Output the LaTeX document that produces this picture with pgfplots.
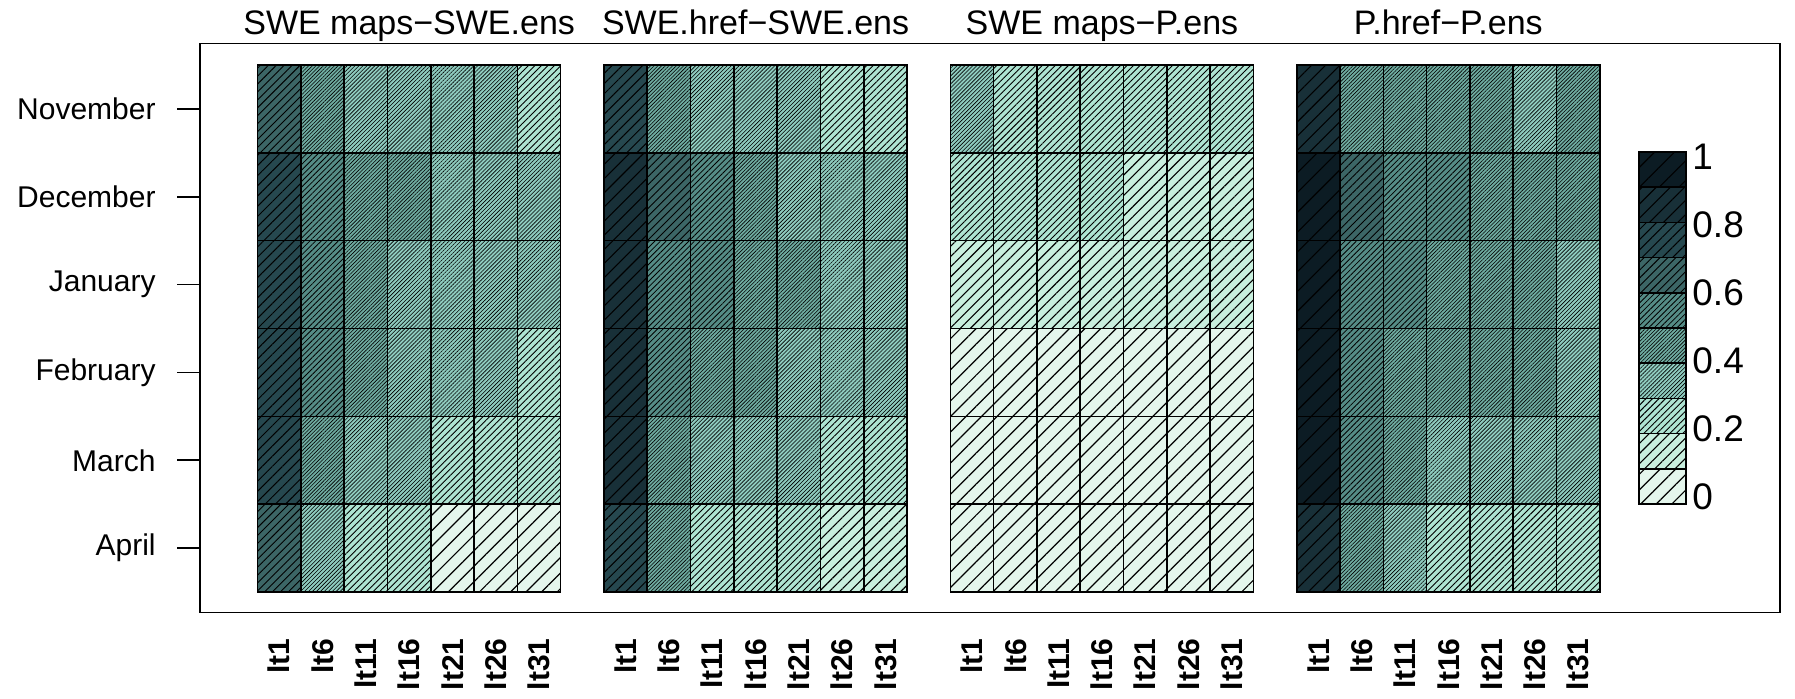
\documentclass[border=0pt]{standalone}
\usepackage{pgfplots}
\pgfplotsset{compat=1.18}
\usepackage{pgfplotstable}
\usepackage{fontspec}
\setmainfont{Liberation Sans}
\usetikzlibrary{patterns.meta}

\definecolor{lv0}{HTML}{E4F6EC}
\definecolor{lv1}{HTML}{C8EFDE}
\definecolor{lv2}{HTML}{AEE4D2}
\definecolor{lv3}{HTML}{8ECBBE}
\definecolor{lv4}{HTML}{6FACA1}
\definecolor{lv5}{HTML}{558C86}
\definecolor{lv6}{HTML}{3C6666}
\definecolor{lv7}{HTML}{26484F}
\definecolor{lv8}{HTML}{183038}
\definecolor{lv9}{HTML}{0C1C24}

\tikzset{
 lvstyle0/.style={fill=lv0,postaction={pattern={Lines[angle=45,distance=5.5pt,line width=0.6pt]},pattern color=black}},
 lvstyle1/.style={fill=lv1,postaction={pattern={Lines[angle=45,distance=3.6pt,line width=0.55pt]},pattern color=black}},
 lvstyle2/.style={fill=lv2,postaction={pattern={Lines[angle=45,distance=2.3pt,line width=0.45pt]},pattern color=black}},
 lvstyle3/.style={fill=lv3,postaction={pattern={Lines[angle=45,distance=1.4pt,line width=0.3pt]},pattern color=black}},
 lvstyle4/.style={fill=lv4,postaction={pattern={Lines[angle=45,distance=1.3pt,line width=0.3pt]},pattern color=black}},
 lvstyle5/.style={fill=lv5,postaction={pattern={Lines[angle=45,distance=2.0pt,line width=0.4pt]},pattern color=black}},
 lvstyle6/.style={fill=lv6,postaction={pattern={Lines[angle=45,distance=2.8pt,line width=0.45pt]},pattern color=black}},
 lvstyle7/.style={fill=lv7,postaction={pattern={Lines[angle=45,distance=3.6pt,line width=0.5pt]},pattern color=black}},
 lvstyle8/.style={fill=lv8,postaction={pattern={Lines[angle=45,distance=5pt,line width=0.55pt]},pattern color=black}},
 lvstyle9/.style={fill=lv9,postaction={pattern={Lines[angle=45,distance=7pt,line width=0.55pt]},pattern color=black}},
}
\newcommand\cellpath[3]{%
  \path[lvstyle#1] (-#2,-#3) rectangle (#2,#3);
  \draw[black,line width=0.8pt] (-#2,-#3) rectangle (#2,#3);}
\pgfdeclareplotmark{cell}{\expandafter\cellpath\expandafter{\lev}{10.825pt}{21.96pt}}
\pgfdeclareplotmark{cbcell}{\expandafter\cellpath\expandafter{\lev}{11.75pt}{8.8pt}}
\pgfplotsset{
  levelcells/.style={
    scatter, only marks, mark=#1, point meta=explicit,
    scatter/@pre marker code/.code={%
      \pgfmathtruncatemacro\lev{min(9,max(0,floor(\pgfplotspointmetatransformed/100)))}%
      \scope},
    scatter/@post marker code/.code={\endscope},
  }
}

% correlation values; m: 5=November ... 0=April; c0..c6 = lt1, lt6, ..., lt31
\pgfplotstableread{
m c0 c1 c2 c3 c4 c5 c6
5 0.65 0.45 0.35 0.35 0.35 0.35 0.25
4 0.75 0.55 0.45 0.45 0.35 0.35 0.35
3 0.75 0.55 0.45 0.35 0.35 0.35 0.35
2 0.75 0.55 0.45 0.35 0.35 0.35 0.25
1 0.75 0.45 0.35 0.35 0.25 0.25 0.25
0 0.65 0.35 0.25 0.25 0.05 0.05 0.05
}\tabA
\pgfplotstableread{
m c0 c1 c2 c3 c4 c5 c6
5 0.75 0.45 0.35 0.35 0.35 0.25 0.25
4 0.85 0.65 0.55 0.45 0.35 0.35 0.35
3 0.85 0.55 0.55 0.45 0.45 0.35 0.35
2 0.85 0.55 0.45 0.45 0.35 0.35 0.35
1 0.85 0.45 0.35 0.35 0.35 0.25 0.25
0 0.75 0.45 0.25 0.25 0.25 0.15 0.15
}\tabB
\pgfplotstableread{
m c0 c1 c2 c3 c4 c5 c6
5 0.35 0.25 0.25 0.25 0.25 0.25 0.25
4 0.25 0.25 0.25 0.25 0.15 0.15 0.15
3 0.15 0.15 0.15 0.15 0.15 0.15 0.15
2 0.05 0.05 0.05 0.05 0.05 0.05 0.05
1 0.05 0.05 0.05 0.05 0.05 0.05 0.05
0 0.05 0.05 0.05 0.05 0.05 0.05 0.05
}\tabC
\pgfplotstableread{
m c0 c1 c2 c3 c4 c5 c6
5 0.85 0.45 0.45 0.45 0.45 0.35 0.45
4 0.95 0.65 0.55 0.55 0.45 0.45 0.45
3 0.95 0.55 0.55 0.45 0.45 0.45 0.35
2 0.95 0.55 0.45 0.45 0.45 0.45 0.35
1 0.95 0.55 0.45 0.35 0.35 0.35 0.35
0 0.85 0.45 0.35 0.25 0.25 0.25 0.25
}\tabD
\pgfplotstableread{
x y v
0.5 0.05 0.05
0.5 0.15 0.15
0.5 0.25 0.25
0.5 0.35 0.35
0.5 0.45 0.45
0.5 0.55 0.55
0.5 0.65 0.65
0.5 0.75 0.75
0.5 0.85 0.85
0.5 0.95 0.95
}\tabCB

\begin{document}
\begin{tikzpicture}
\path[use as bounding box] (0,0) rectangle (897.5pt,349pt);
\begin{axis}[
  at={(100pt,42.75pt)}, anchor=south west,
  x=21.65pt, y=43.92pt,
  xmin=-1.33, xmax=35.16, ymin=-0.233, ymax=6.245,
  clip=false,
  axis line style={line width=0.9pt},
  point meta min=0, point meta max=1,
  ytick={0.5,1.5,2.5,3.5,4.5,5.5},
  yticklabels={April,March,February,January,December,November},
  ytick pos=left, tick align=outside,
  major tick length=11.5pt,
  ytick style={line width=0.8pt, black},
  yticklabel style={font=\fontsize{15}{18}\selectfont, anchor=east, inner sep=0pt, xshift=-10.5pt},
  xtick={0.5,1.5,2.5,3.5,4.5,5.5,6.5,8.5,9.5,10.5,11.5,12.5,13.5,14.5,16.5,17.5,18.5,19.5,20.5,21.5,22.5,24.5,25.5,26.5,27.5,28.5,29.5,30.5},
  xticklabels={lt1,lt6,lt11,lt16,lt21,lt26,lt31,lt1,lt6,lt11,lt16,lt21,lt26,lt31,lt1,lt6,lt11,lt16,lt21,lt26,lt31,lt1,lt6,lt11,lt16,lt21,lt26,lt31},
  xtick pos=bottom, xtick style={draw=none},
  xticklabel style={font=\bfseries\fontsize{15}{18}\selectfont, yshift=-1.3pt, rotate=90, anchor=east, inner sep=0pt},
]
\pgfplotsinvokeforeach{0,...,6}{
  \addplot[levelcells=cell] table[x expr={#1+0.5}, y expr={\thisrow{m}+0.5}, meta=c#1] {\tabA};
  \addplot[levelcells=cell] table[x expr={#1+8.5}, y expr={\thisrow{m}+0.5}, meta=c#1] {\tabB};
  \addplot[levelcells=cell] table[x expr={#1+16.5}, y expr={\thisrow{m}+0.5}, meta=c#1] {\tabC};
  \addplot[levelcells=cell] table[x expr={#1+24.5}, y expr={\thisrow{m}+0.5}, meta=c#1] {\tabD};
}
\node[font=\fontsize{17}{20}\selectfont, anchor=base, yshift=4.7pt] at (axis cs:3.5,6.245) {SWE maps−SWE.ens};
\node[font=\fontsize{17}{20}\selectfont, anchor=base, yshift=4.7pt] at (axis cs:11.5,6.245) {SWE.href−SWE.ens};
\node[font=\fontsize{17}{20}\selectfont, anchor=base, yshift=4.7pt] at (axis cs:19.5,6.245) {SWE maps−P.ens};
\node[font=\fontsize{17}{20}\selectfont, anchor=base, yshift=4.7pt] at (axis cs:27.5,6.245) {P.href−P.ens};
\end{axis}
\begin{axis}[
  at={(819.5pt,97pt)}, anchor=south west,
  width=23.5pt, height=176pt, scale only axis,
  xmin=0, xmax=1, ymin=0, ymax=1, clip=false,
  axis x line=none, axis y line*=right, y axis line style={draw=none},
  ytick={0.0199,0.2131,0.4063,0.5994,0.7926,0.9858},
  yticklabels={0,0.2,0.4,0.6,0.8,1},
  ytick style={draw=none},
  yticklabel style={font=\fontsize{18.5}{22}\selectfont, anchor=west, inner sep=0pt, xshift=3pt},
  point meta min=0, point meta max=1,
]
\addplot[levelcells=cbcell] table[x=x, y=y, meta=v] {\tabCB};
\end{axis}
\end{tikzpicture}
\end{document}
